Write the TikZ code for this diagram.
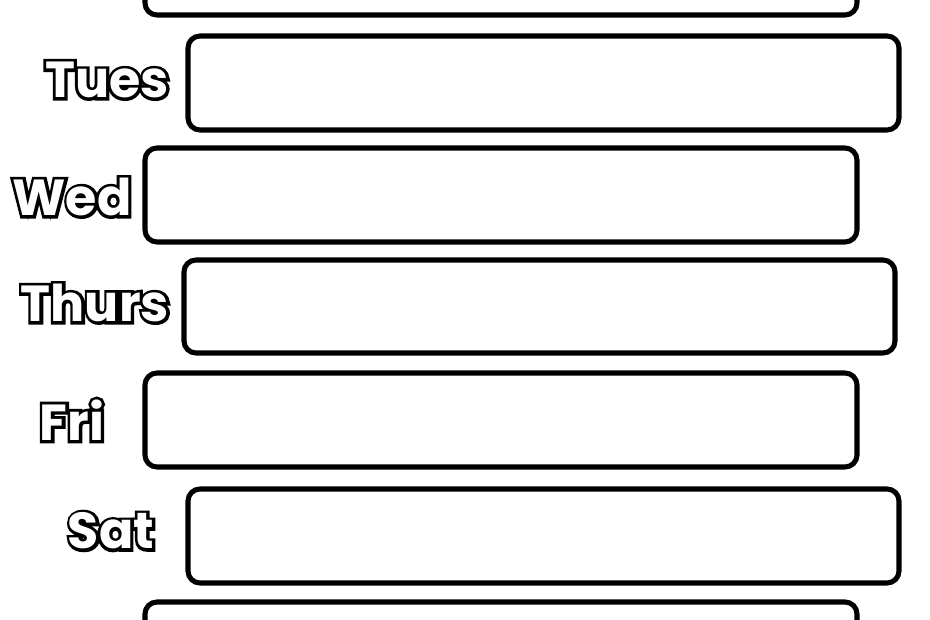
\documentclass[tikz,border=0pt]{standalone}
\usepackage{fontspec}
\newfontfamily\lblback[FakeBold=12]{Poppins}
\newfontfamily\lblfront{Poppins}
\begin{document}
\begin{tikzpicture}[x=0.75pt,y=-0.75pt,
  daybox/.style={draw=black,line width=3.8pt,rounded corners=9pt,fill=white},
  lb/.style={font=\lblback\bfseries\fontsize{38}{38}\selectfont,text=black,inner sep=0},
  lf/.style={font=\lblfront\bfseries\fontsize{38}{38}\selectfont,text=white,inner sep=0}]
\path[use as bounding box,fill=white] (0,0) rectangle (930,620);
\begin{scope}
\clip (0,0) rectangle (930,620);
\draw[daybox] (145,-80) rectangle (857,15);
\draw[daybox] (188,36) rectangle (899,130);
\draw[daybox] (145,148) rectangle (857,242);
\draw[daybox] (184,260) rectangle (895,353);
\draw[daybox] (145,373) rectangle (857,467);
\draw[daybox] (188,489) rectangle (899,583);
\draw[daybox] (145,602) rectangle (857,700);
\end{scope}
\foreach \t/\x/\y/\n in {Tues/107/80/a,Wed/72/197/b,Thurs/95/303/c,Fri/72/420/d,Sat/111/531/e}{
  \node[lb] (\n b) at (\x,\y) {\t};
  \node[lf] (\n f) at (\x,\y) {\t};
}
\end{tikzpicture}
\end{document}
